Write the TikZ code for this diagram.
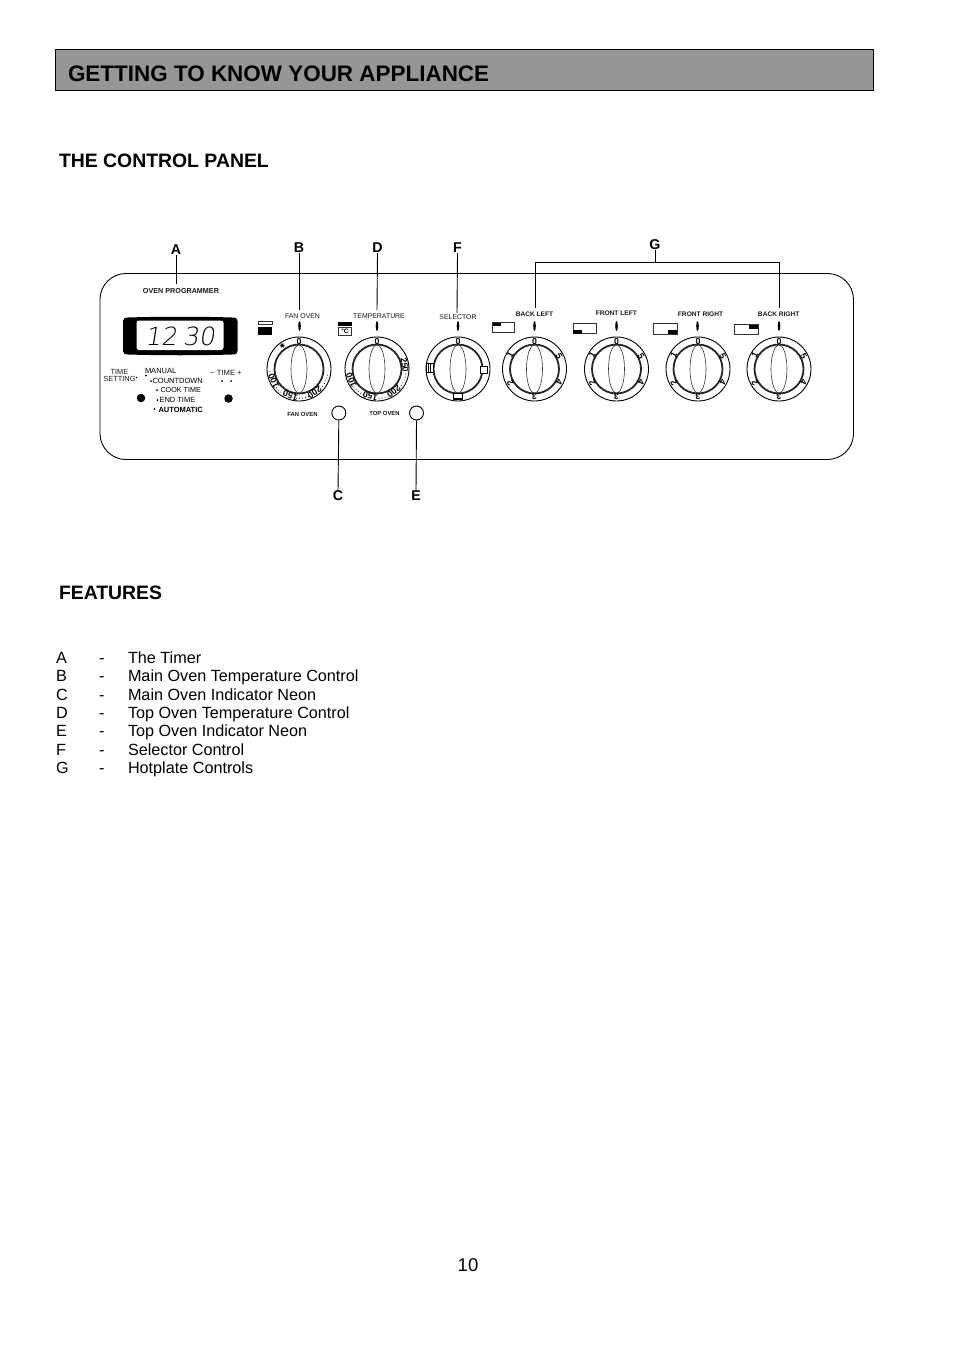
\documentclass[tikz,border=0pt]{standalone}
\usepackage{fontspec}
\setmainfont{Liberation Sans}
\newfontfamily\lcdfont[FakeSlant=0.16]{DejaVu Sans ExtraLight}
\newfontfamily\symfont{DejaVu Sans}
\newcommand{\fs}[1]{\fontsize{#1}{#1}\selectfont}
\usetikzlibrary{shapes.geometric}
\tikzset{
  txt/.style={inner sep=0pt,outer sep=0pt,anchor=base west,text=black},
  heading/.style={txt,font=\fs{22.45}\bfseries},
  subhead/.style={txt,font=\fs{19.4}\bfseries},
  body/.style={txt,font=\fs{16.2}},
  letter/.style={inner sep=0pt,font=\fs{14.2}\bfseries},
  tiny/.style={inner sep=0pt,outer sep=0pt,font=\fs{6.9},text=black!90},
  tinyb/.style={tiny,font=\fs{6.9}\bfseries},
  prog/.style={tiny,anchor=west,font=\fs{7.5},text=black},
  leader/.style={draw=black,line width=0.9pt},
  knobouter/.style={circle,draw=black,line width=0.9pt,minimum size=64pt,inner sep=0pt,fill=white},
  knobinner/.style={circle,draw=black!85,line width=1.8pt,minimum size=49pt,inner sep=0pt},
  knoblens/.style={ellipse,draw=black!80,line width=0.6pt,minimum width=16pt,minimum height=48pt,inner sep=0pt},
  neon/.style={circle,draw=black,line width=0.9pt,minimum size=14pt,inner sep=0pt,fill=white},
  dotb/.style={circle,fill=black,inner sep=0pt,minimum size=2pt},
  button/.style={circle,fill=black,inner sep=0pt,minimum size=8.5pt},
  marker/.style={ellipse,fill=black,inner sep=0pt,minimum width=2.6pt,minimum height=10pt},
  iconbox/.style={draw=black!80,line width=0.7pt,fill=white},
  selbox/.style={draw=black,line width=0.8pt,fill=white},
  knobnum/.style={inner sep=0pt,font=\fs{8.8}\bfseries,text=black},
}
\newcommand{\knob}[2]{%
  \node[knobouter] (#1) at (#2,369) {};
  \node[knobinner] (#1i) at (#1) {};
  \node[knoblens] (#1l) at (#1) {};
}
\newcommand{\knum}[3]{% knob, clockwise angle from top, text
  \path (#1) ++({28*sin(#2)*1pt},{28*cos(#2)*1pt}) node[knobnum,rotate=-#2] (#1n#2) {#3};
}
\newcommand{\kdots}[2]{%
  \foreach \t in {#2} {\path[fill=black] (#1) ++({29.3*sin(\t)*1pt},{29.3*cos(\t)*1pt}) circle (0.55pt);}
}
\begin{document}
\begin{tikzpicture}[x=1pt,y=-1pt]
\useasboundingbox (0,0) rectangle (954,1351);
\fill[white] (0,0) rectangle (954,1351);

% title bar
\draw[fill=black!41,draw=black,line width=0.9pt] (55.5,49.5) rectangle (873.5,90.5);
\node[heading] (title) at (68,81.7) {GETTING TO KNOW YOUR APPLIANCE};
\node[subhead] (panelhead) at (59,167.7) {THE CONTROL PANEL};
\node[subhead] (feathead) at (59,599.3) {FEATURES};

% panel
\draw[draw=black,line width=0.9pt,rounded corners=26pt] (100,273.5) rectangle (853.5,459.5);

% display
\fill[black] (123,321) .. controls (123,318) and (125,317.5) .. (128,317.5) .. controls (160,316.5) and (200,316.5) .. (232,317.5)
  .. controls (236,317.5) and (237.5,318) .. (237.5,321) -- (237.5,351) .. controls (237.5,354) and (236,354.5) .. (232,354.5)
  .. controls (200,355.5) and (160,355.5) .. (128,354.5) .. controls (125,354.5) and (123,354) .. (123,351) -- cycle;
\fill[white,rounded corners=2.5pt] (136.5,320.5) rectangle (223.5,350);
\node[inner sep=0pt,font=\lcdfont\fs{25}] (lcd) at (180,336) {12\hspace{6pt}30};

% programmer texts
\node[tiny,font=\fs{7.2}\bfseries] (oventitle) at (181,291.3) {OVEN PROGRAMMER};
\node[tiny,font=\fs{7.4}] (time1) at (119.5,372) {TIME};
\node[tiny,font=\fs{7.4}] (time2) at (119.5,379) {SETTING};
\node[dotb,minimum size=1.6pt] (d0) at (136.5,377.5) {};
\node[prog] (manual) at (145,370.5) {MANUAL};
\node[dotb] (d1) at (146,375.5) {};
\node[dotb] (d2) at (151,381) {};
\node[prog] (countdown) at (152.5,381) {COUNTDOWN};
\node[dotb] (d3) at (157,390) {};
\node[prog,font=\fs{7.2}] (cook) at (160.5,390) {COOK TIME};
\node[dotb] (d4) at (157.5,400) {};
\node[prog] (endt) at (159.5,400) {END TIME};
\node[dotb] (d5) at (154.5,409) {};
\node[prog,font=\fs{7.5}\bfseries] (auto) at (158.5,409.5) {AUTOMATIC};
\node[tiny,font=\fs{7.6}] (timepm) at (226,373) {\textminus{} TIME +};
\node[dotb] (d6) at (222,381) {};
\node[dotb] (d7) at (231,381) {};
\node[button] (b1) at (141,398) {};
\node[button] (b2) at (228.5,398.5) {};

% knobs
\knob{kfan}{299}
\knob{ktemp}{377}
\knob{ksel}{458}
\knob{kbl}{534.5}
\knob{kfl}{616.5}
\knob{kfr}{698}
\knob{kbr}{779}

% knob labels
\node[tiny] (lfan) at (302.5,316) {FAN OVEN};
\node[tiny] (ltemp) at (379,316.3) {TEMPERATURE};
\node[tiny] (lsel) at (458,317) {SELECTOR};
\node[tinyb,font=\fs{6.6}\bfseries] (lbl) at (534.5,314) {BACK LEFT};
\node[tinyb,font=\fs{6.6}\bfseries] (lfl) at (616.3,313.5) {FRONT LEFT};
\node[tinyb,font=\fs{6.6}\bfseries] (lfr) at (700.5,314.5) {FRONT RIGHT};
\node[tinyb,font=\fs{6.6}\bfseries] (lbr) at (778.7,314) {BACK RIGHT};
\node[tinyb,font=\fs{5.9}\bfseries] (lneon1) at (302.5,414) {FAN OVEN};
\node[tinyb,font=\fs{5.9}\bfseries] (lneon2) at (384.5,413.7) {TOP OVEN};

% markers
\foreach \m/\x in {m1/299.5,m2/377,m3/458,m4/534.5,m5/616.5,m6/697.5,m7/779}{
  \node[marker] (\m) at (\x,326) {};
}

% dial numbers
\knum{kfan}{0}{0}
\knum{kfan}{-36}{\symfont\fs{6.5}✱}
\knum{kfan}{-115}{100}
\knum{kfan}{198}{150}
\knum{kfan}{146}{200}
\kdots{kfan}{-100,-95}
\kdots{kfan}{212,218,...,232}
\kdots{kfan}{161,167,...,185}
\kdots{kfan}{102,108,...,132}

\knum{ktemp}{0}{0}
\knum{ktemp}{-114}{100}
\knum{ktemp}{194}{150}
\knum{ktemp}{143}{200}
\knum{ktemp}{82}{250}
\kdots{ktemp}{100,106,...,130}
\kdots{ktemp}{158,164,...,180}
\kdots{ktemp}{208,214,...,232}

\knum{ksel}{0}{0}
\draw[selbox] (426,363.5) rectangle (433,372);
\draw[black,line width=0.5pt] (428.5,363.5) -- (428.5,372) (430.5,363.5) -- (430.5,372);
\draw[selbox] (480.5,366.5) rectangle (487,373);
\draw[selbox] (453.5,393.5) rectangle (462.5,399);
\fill[black] (453.5,397.5) rectangle (462.5,399);

\foreach \k in {kbl,kfl,kfr,kbr}{
  \knum{\k}{0}{0}
  \knum{\k}{-60}{1}
  \knum{\k}{-120}{2}
  \knum{\k}{180}{3}
  \knum{\k}{118}{4}
  \knum{\k}{62}{5}
}

% oven icons
\draw[iconbox] (258,321.7) rectangle (272,324.5);
\fill[black] (258,326.5) rectangle (272,335);
\fill[black] (338,322) rectangle (352,326);
\node[iconbox,minimum width=13.5pt,minimum height=8pt,inner sep=0pt,font=\fs{6.5}\bfseries] (celsius) at (345,331.2) {°C};
% hotplate icons
\draw[iconbox] (492.5,322) rectangle (514.5,332);
\fill[black] (493,323) rectangle (500.5,325.8);
\draw[iconbox] (573,323.5) rectangle (596,333.5);
\fill[black] (573,330) rectangle (581.5,333.5);
\draw[iconbox] (653.5,323.5) rectangle (677,334);
\fill[black] (668,330.3) rectangle (677,333.5);
\draw[iconbox] (734.5,324.5) rectangle (758,334.5);
\fill[black] (749,325) rectangle (757.5,328.5);

% neons
\node[neon] (nc) at (338.8,413) {};
\node[neon] (ne) at (416.5,413) {};

% letters
\node[letter] (lA) at (176,249.5) {A};
\node[letter] (lB) at (299,248) {B};
\node[letter] (lD) at (377.5,248) {D};
\node[letter] (lF) at (457.5,248) {F};
\node[letter] (lG) at (655,244.5) {G};
\node[letter] (lC) at (338,496) {C};
\node[letter] (lE) at (416,496) {E};

% leader end points
\coordinate (tipA) at (176,284);
\coordinate (tipB) at (299,310);
\coordinate (tipD) at (377,310);
\coordinate (tipF) at (457,313);
\coordinate (gmid) at (655,262);
\coordinate (gl) at (535,262);
\coordinate (gr) at (779,262);
\coordinate (tipBL) at (535,308);
\coordinate (tipBR) at (779,308);

\draw[leader] (lA.south) -- (tipA);
\draw[leader] (lB.south) -- (tipB);
\draw[leader] (lD.south) -- (tipD);
\draw[leader] (lF.south) -- (tipF);
\draw[leader] (lG.south) -- (gmid);
\draw[leader] (tipBL) -- (gl) -- (gr) -- (tipBR);
\draw[leader] (nc.south) -- (lC.north);
\draw[leader] (ne.south) -- (lE.north);

% feature list
\foreach \n/\y/\a/\b in {
  fa/663/A/The Timer,
  fb/681/B/Main Oven Temperature Control,
  fc/700/C/Main Oven Indicator Neon,
  fd/718/D/Top Oven Temperature Control,
  fe/736/E/Top Oven Indicator Neon,
  ff/755/F/Selector Control,
  fg/773/G/Hotplate Controls}{
  \node[body] (\n a) at (56,\y) {\a};
  \node[body] (\n d) at (99,\y) {-};
  \node[body] (\n t) at (128,\y) {\b};
}

\node[inner sep=0pt,font=\fs{18.5}] (pageno) at (468,1265.5) {10};
\end{tikzpicture}
\end{document}
